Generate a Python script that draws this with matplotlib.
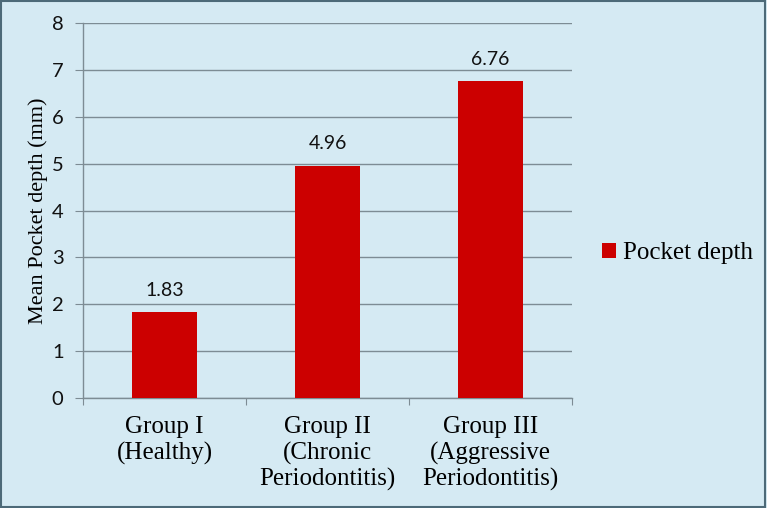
import matplotlib
matplotlib.use("Agg")
import matplotlib.pyplot as plt
from matplotlib.patches import Rectangle

# data
groups = ['Group I\n(Healthy)', 'Group II\n(Chronic\nPeriodontitis)', 'Group III\n(Aggressive\nPeriodontitis)']
pocket_depth = [1.83, 4.96, 6.76]
y_ticks = [0, 1, 2, 3, 4, 5, 6, 7, 8]

bg = '#d5eaf3'
grid_col = '#7d8c94'
bar_col = '#cc0000'

fig = plt.figure(figsize=(7.67, 5.08), dpi=100, facecolor=bg)
# dark frame round the whole picture
fig.patches.append(Rectangle((0.001, 0.002), 0.997, 0.996, transform=fig.transFigure,
                             fill=False, edgecolor='#4d6a78', linewidth=1.5))

ax = fig.add_axes([0.1082, 0.2165, 0.6376, 0.7382])
ax.set_facecolor(bg)

x = range(len(groups))
bars = ax.bar(x, pocket_depth, width=0.4, color=bar_col, label='Pocket depth', zorder=3)

for xi, v in zip(x, pocket_depth):
    ax.text(xi, v + 0.28, '%.2f' % v, ha='center', va='bottom',
            fontsize=14, family='Lato', color='#111111')

ax.set_xlim(-0.5, len(groups) - 0.5)
ax.set_ylim(0, 8)
ax.set_yticks(y_ticks)
ax.set_yticklabels([str(t) for t in y_ticks], family='Lato', fontsize=14.5)
ax.yaxis.grid(True, color=grid_col, linewidth=1.0, zorder=0)
ax.tick_params(axis='y', length=6, color=grid_col, pad=8, labelcolor='#111111')

# category ticks sit between the groups
ax.set_xticks([-0.5, 0.5, 1.5, 2.5])
ax.set_xticklabels([])
ax.tick_params(axis='x', length=5, color=grid_col)
ax.set_xticks(list(x), minor=True)
ax.set_xticklabels(groups, minor=True, family='Liberation Serif', fontsize=18,
                   va='top', linespacing=1.2)
ax.tick_params(axis='x', which='minor', length=0, pad=13)

for s in ['top', 'right']:
    ax.spines[s].set_visible(False)
for s in ['left', 'bottom']:
    ax.spines[s].set_color(grid_col)
    ax.spines[s].set_linewidth(1.0)

ax.set_ylabel('Mean Pocket depth (mm)', family='Liberation Serif', fontsize=16, labelpad=3)

leg = ax.legend(loc='center left', bbox_to_anchor=(0.785, 0.502), bbox_transform=fig.transFigure,
                frameon=False, borderpad=0, borderaxespad=0,
                prop={'family': 'Liberation Serif', 'size': 18},
                handlelength=0.55, handleheight=0.55, handletextpad=0.3)

plt.savefig('out.png', dpi=100, facecolor=bg)
